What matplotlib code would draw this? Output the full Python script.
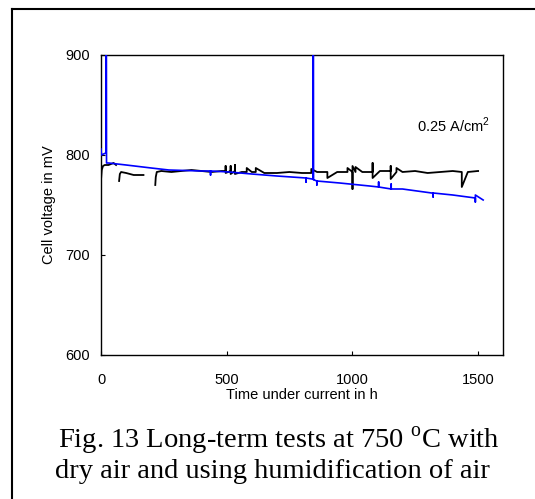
import matplotlib
matplotlib.use("Agg")
import matplotlib.pyplot as plt
from matplotlib.lines import Line2D
import numpy as np

nan = np.nan

# Blue series (time in h, cell voltage in mV)
blue_t = [0, 2, 10, 19, 20, 21, 22, 30, 100, 200, 270, 400, 436, 436, 436, 510, 600, 700,
          816, 816, 816, 840, 844, 845, 846, 849, 859, 859, 859, 950, 1069,
          1105, 1105, 1105, 1155, 1155, 1155, 1200, 1316, 1322, 1322, 1322, 1400,
          1490, 1490, 1490, 1521]
blue_v = [806, 800, 801, 802, 806, 1000, 792, 792, 790, 787, 785, 784, 784, 780, 784, 783, 781, 779,
          777, 773, 777, 776, 776, 1000, 775, 775, 774, 770, 774, 772, 769,
          768, 773, 768, 766, 771, 766, 766, 762, 762, 758, 762, 760,
          757, 753, 760, 755]

# Black series (three segments separated by gaps)
black_t = [0, 3, 8, 15, 30, 50, 60, nan,
           72, 75, 80, 100, 130, 150, 169, nan,
           216, 218, 222, 240, 280, 320, 360, 400, 440, 480, 496, 496, 496, 516, 516, 516,
           533, 533, 533, 560, 580, 580, 600, 616, 616, 650, 700, 750, 800, 837, 837, 860,
           901, 901, 940, 981, 981, 1001, 1001, 1001, 1013, 1013, 1040, 1081, 1081, 1081,
           1110, 1153, 1153, 1153, 1176, 1176, 1200, 1250, 1300, 1350, 1400, 1436, 1436,
           1460, 1500, 1501]
black_v = [775, 785, 789, 790, 790, 792, 790, nan,
           774, 781, 783, 782, 780, 780, 780, nan,
           770, 778, 783, 784, 783, 784, 785, 784, 783, 784, 784, 789, 782, 784, 789, 781,
           784, 790, 781, 783, 783, 787, 783, 783, 787, 782, 782, 783, 782, 782, 786, 783,
           783, 777, 783, 783, 787, 783, 766, 789, 783, 788, 783, 783, 792, 777,
           784, 784, 789, 776, 783, 787, 783, 784, 782, 783, 784, 783, 768,
           783, 784, 784]

x_ticks = [0, 500, 1000, 1500]
y_ticks = [600, 700, 800, 900]

fig = plt.figure(figsize=(5.35, 4.99), dpi=100)
plt.rcParams['font.family'] = ['Liberation Sans', 'DejaVu Sans']

ax = fig.add_axes([101/535, 1 - 355/499, (503 - 101)/535, (355 - 55)/499])
ax.plot(black_t, black_v, color='black', lw=1.3, zorder=2)
ax.plot(blue_t, blue_v, color='#0000ff', lw=1.2, zorder=3)

ax.set_xlim(0, 1600)
ax.set_ylim(600, 900)
ax.set_xticks(x_ticks)
ax.set_yticks(y_ticks)
ax.tick_params(direction='in', length=3, width=0.8, labelsize=10.5)
ax.tick_params(axis='x', pad=13)
ax.tick_params(axis='y', pad=8)
for s in ax.spines.values():
    s.set_linewidth(1.0)

ax.set_xlabel('Time under current in h', fontsize=10.5, labelpad=1)
ax.set_ylabel('Cell voltage in mV', fontsize=10.5, labelpad=7)

ax.text(1550, 830, r'0.25 A/cm$^\mathregular{2}$', fontsize=10.5, ha='right', va='center')

fig.text(279/535, 1 - 441/499, r'Fig. 13 Long-term tests at 750 $^\mathregular{o}$C with',
         family='Liberation Serif', fontsize=20.5, ha='center', va='center')
fig.text(272/535, 1 - 472/499, 'dry air and using humidification of air',
         family='Liberation Serif', fontsize=20.5, ha='center', va='center')

# outer frame (left and top edges)
fig.add_artist(Line2D([11.5/535, 11.5/535], [0, 1 - 9/499], transform=fig.transFigure,
                      color='black', lw=1.5))
fig.add_artist(Line2D([11.5/535, 1], [1 - 9/499, 1 - 9/499], transform=fig.transFigure,
                      color='black', lw=1.5))

fig.savefig('out.png', dpi=100)
